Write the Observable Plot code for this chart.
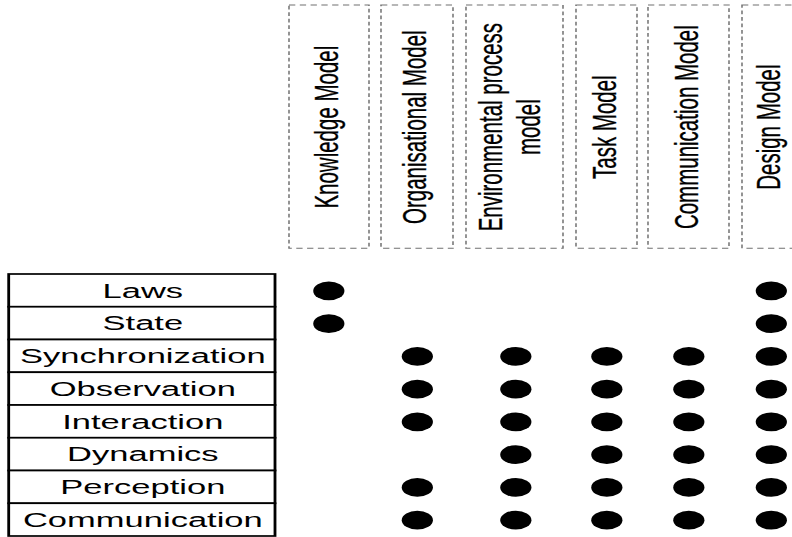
<!DOCTYPE html>
<html>
<head>
<meta charset="utf-8">
<script src="https://cdn.jsdelivr.net/npm/d3@7"></script>
<script src="https://cdn.jsdelivr.net/npm/@observablehq/plot@0.6"></script>
<style>
  html, body { margin: 0; padding: 0; background: #fff; overflow: hidden; }
  #chart svg { display: block; }
</style>
</head>
<body>
<div id="chart"></div>
<script>
// ---------- DATA ----------
const features = ["Laws", "State", "Synchronization", "Observation", "Interaction", "Dynamics", "Perception", "Communication"];
const models = ["Knowledge Model", "Organisational Model", "Environmental process\nmodel", "Task Model", "Communication Model", "Design Model"];
// coverage of each feature (same order as `features`) by each model
const knowledgeModel      = [1, 1, 0, 0, 0, 0, 0, 0];
const organisationalModel = [0, 0, 1, 1, 1, 0, 1, 1];
const environmentalModel  = [0, 0, 1, 1, 1, 1, 1, 1];
const taskModel           = [0, 0, 1, 1, 1, 1, 1, 1];
const communicationModel  = [0, 0, 1, 1, 1, 1, 1, 1];
const designModel         = [1, 1, 1, 1, 1, 1, 1, 1];
const coverage = [knowledgeModel, organisationalModel, environmentalModel, taskModel, communicationModel, designModel];

// ---------- LAYOUT (scale ranges, in page pixels) ----------
const W = 792, H = 537;
const STRETCH = 1.66; // the figure is drawn horizontally stretched
// x slots: label column (left, centre, right), then for each model (left, centre, right)
const xSlots = [8.7, 142, 275, 289, 328, 369, 381, 416.5, 453, 466, 515, 563, 576, 606, 637, 648, 688, 729, 742, 770.5, 799];
// y slots: header box top, header box bottom, table top, table bottom
const ySlots = [5, 248.3, 274, 536];

// ---------- DERIVED TABLES ----------
const headerData = models.map((name, i) => ({name, i, multi: name.includes("\n")}));
const rowData = features.map((name, j) => ({name, j}));
const dotData = coverage.flatMap((col, i) =>
  col.map((v, j) => ({i, j, v})).filter(d => d.v === 1));

const font = "'Liberation Sans', Arial, Helvetica, sans-serif";
const headerText = {
  x: d => 3 * d.i + 1, y: -1.5, text: "name", rotate: -90,
  fontSize: 20.5, lineHeight: 1.1, fill: "#000", stroke: "#000", strokeWidth: 0.2, fontFamily: font
};

const svg = Plot.plot({
  width: W / STRETCH,
  height: H,
  margin: 0,
  style: {background: "white", fontFamily: font},
  x: {type: "linear", domain: xSlots.map((_, k) => k - 3), range: xSlots.map(v => v / STRETCH), axis: null},
  y: {type: "linear", domain: [-2, -1, 0, features.length], range: ySlots, axis: null},
  marks: [
    // header boxes (dashed)
    Plot.rect(headerData, {
      x1: d => 3 * d.i, x2: d => 3 * d.i + 2, y1: -2, y2: -1,
      fill: "none", stroke: "#707070", strokeWidth: 0.9, strokeDasharray: "3.8,2.7"
    }),
    Plot.text(headerData.filter(d => !d.multi), {...headerText, dx: -3 / STRETCH}),
    Plot.text(headerData.filter(d => d.multi), {...headerText, dx: -7 / STRETCH}),
    // feature table
    Plot.rect(rowData, {
      x1: -3, x2: -1, y1: d => d.j, y2: d => d.j + 1,
      fill: "white", stroke: "#000", strokeWidth: 1.7
    }),
    Plot.text(rowData, {
      x: -2, y: d => d.j + 0.5, text: "name",
      fontSize: 20.8, fill: "#000", fontFamily: font
    }),
    // coverage dots
    Plot.dot(dotData, {
      x: d => 3 * d.i + 1, y: d => d.j + 0.5, r: 9.4, fill: "#000", stroke: "none"
    })
  ]
});

svg.setAttribute("width", W);
svg.setAttribute("height", H);
svg.setAttribute("preserveAspectRatio", "none");
svg.style.width = W + "px";
svg.style.height = H + "px";
svg.style.maxWidth = "none";
document.getElementById("chart").appendChild(svg);
</script>
</body>
</html>
